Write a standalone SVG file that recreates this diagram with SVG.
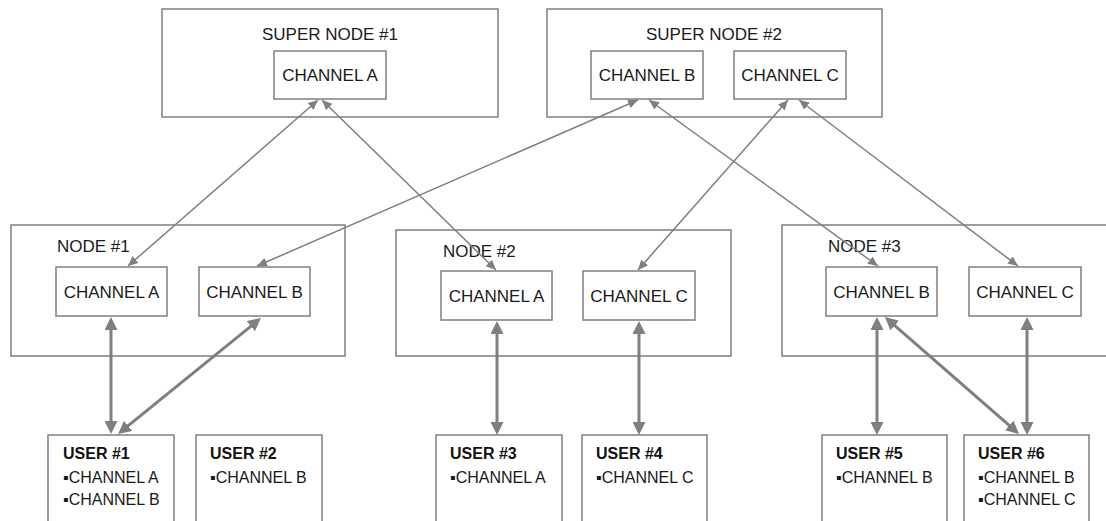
<svg xmlns="http://www.w3.org/2000/svg" width="1106" height="521" viewBox="0 0 1106 521">
<style>
.box{fill:#fff;stroke:#7f7f7f;stroke-width:1.5}
.t{font-family:"Liberation Sans",Arial,sans-serif;font-size:17px;fill:#1a1a1a}
.c{text-anchor:middle}
.u{font-family:"Liberation Sans",Arial,sans-serif;font-size:16px;fill:#111;font-weight:bold}
.b{font-family:"Liberation Sans","DejaVu Sans",sans-serif;font-size:16px;fill:#1a1a1a}
.thin{stroke:#7f7f7f;stroke-width:1.5;fill:none;marker-start:url(#a1);marker-end:url(#a1)}
.thick{stroke:#7f7f7f;stroke-width:3;fill:none;marker-start:url(#a2);marker-end:url(#a2)}
</style>
<defs>
<marker id="a1" markerUnits="userSpaceOnUse" markerWidth="11" markerHeight="10" refX="10" refY="4.5" orient="auto-start-reverse"><path d="M0,0 L10,4.5 L0,9 z" fill="#7f7f7f"/></marker>
<marker id="a2" markerUnits="userSpaceOnUse" markerWidth="14" markerHeight="13" refX="3" refY="6.5" orient="auto-start-reverse"><path d="M0,0 L13,6.5 L0,13 z" fill="#7f7f7f"/></marker>
</defs>
<rect width="1106" height="521" fill="#fff"/>

<g id="supernode1">
<rect class="box" x="162" y="9" width="336" height="108"/>
<text class="t c" x="330" y="40">SUPER NODE #1</text>
<rect class="box" x="274" y="51" width="112" height="48"/>
<text class="t c" x="330" y="81">CHANNEL A</text>
</g>
<g id="supernode2">
<rect class="box" x="547" y="9" width="335" height="108"/>
<text class="t c" x="714" y="40">SUPER NODE #2</text>
<rect class="box" x="591" y="51" width="112" height="48"/>
<text class="t c" x="647" y="81">CHANNEL B</text>
<rect class="box" x="734" y="51" width="112" height="48"/>
<text class="t c" x="790" y="81">CHANNEL C</text>
</g>
<g id="node1">
<rect class="box" x="11" y="225" width="334" height="131"/>
<text class="t" x="57" y="252">NODE #1</text>
<rect class="box" x="56" y="267" width="111" height="49"/>
<text class="t c" x="111.5" y="298">CHANNEL A</text>
<rect class="box" x="199" y="267" width="111" height="49"/>
<text class="t c" x="254.5" y="298">CHANNEL B</text>
</g>
<g id="node2">
<rect class="box" x="396" y="230" width="335" height="126"/>
<text class="t" x="443" y="257">NODE #2</text>
<rect class="box" x="441" y="271" width="111" height="49"/>
<text class="t c" x="496.5" y="302">CHANNEL A</text>
<rect class="box" x="583" y="271" width="112" height="49"/>
<text class="t c" x="639" y="302">CHANNEL C</text>
</g>
<g id="node3">
<rect class="box" x="782" y="225" width="340" height="131"/>
<text class="t" x="828" y="252">NODE #3</text>
<rect class="box" x="826" y="267" width="111" height="49"/>
<text class="t c" x="881.5" y="298">CHANNEL B</text>
<rect class="box" x="969" y="267" width="112" height="49"/>
<text class="t c" x="1025" y="298">CHANNEL C</text>
</g>
<g id="user1">
<rect class="box" x="48" y="435" width="126" height="100"/>
<text class="u" x="63" y="459">USER #1</text>
<text class="b" x="63" y="483">▪CHANNEL A</text>
<text class="b" x="63" y="505">▪CHANNEL B</text>
</g>
<g id="user2">
<rect class="box" x="196" y="435" width="126" height="100"/>
<text class="u" x="210" y="459">USER #2</text>
<text class="b" x="210" y="483">▪CHANNEL B</text>
</g>
<g id="user3">
<rect class="box" x="436" y="435" width="126" height="100"/>
<text class="u" x="450" y="459">USER #3</text>
<text class="b" x="450" y="483">▪CHANNEL A</text>
</g>
<g id="user4">
<rect class="box" x="582" y="435" width="125" height="100"/>
<text class="u" x="596" y="459">USER #4</text>
<text class="b" x="596" y="483">▪CHANNEL C</text>
</g>
<g id="user5">
<rect class="box" x="822" y="435" width="125" height="100"/>
<text class="u" x="836" y="459">USER #5</text>
<text class="b" x="836" y="483">▪CHANNEL B</text>
</g>
<g id="user6">
<rect class="box" x="964" y="435" width="125" height="100"/>
<text class="u" x="978" y="459">USER #6</text>
<text class="b" x="978" y="483">▪CHANNEL B</text>
<text class="b" x="978" y="505">▪CHANNEL C</text>
</g>

<g id="connectors">
<line class="thin" x1="318" y1="100" x2="128" y2="266"/>
<line class="thin" x1="322" y1="100" x2="496" y2="270"/>
<line class="thin" x1="638" y1="100" x2="257" y2="266"/>
<line class="thin" x1="649" y1="100" x2="878" y2="266"/>
<line class="thin" x1="788" y1="100" x2="638" y2="270"/>
<line class="thin" x1="799" y1="100" x2="1018" y2="266"/>
<line class="thick" x1="111" y1="327" x2="111" y2="424"/>
<line class="thick" x1="253.2" y1="324.3" x2="125.8" y2="427.7"/>
<line class="thick" x1="497" y1="331" x2="497" y2="425"/>
<line class="thick" x1="639" y1="331" x2="639" y2="425"/>
<line class="thick" x1="877" y1="327" x2="877" y2="425"/>
<line class="thick" x1="892.5" y1="323.6" x2="1011.5" y2="427.4"/>
<line class="thick" x1="1027" y1="327" x2="1027" y2="425"/>
</g>
</svg>
